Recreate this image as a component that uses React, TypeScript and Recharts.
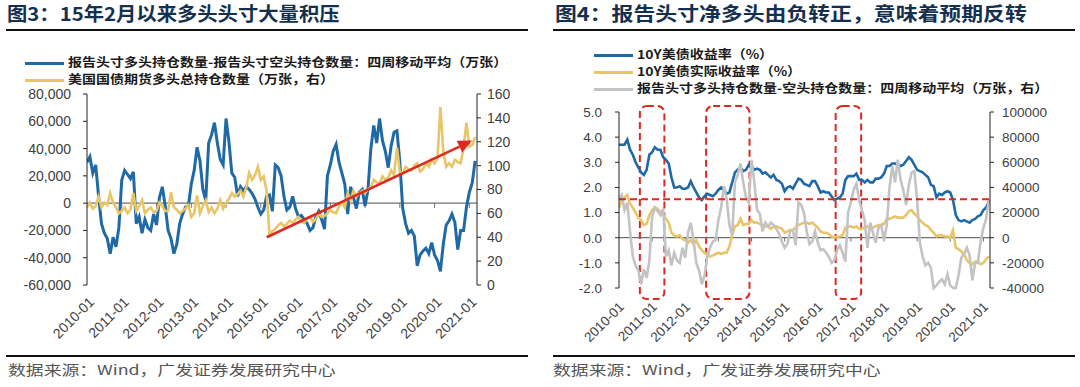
import React from 'react';
import { LineChart, Line, XAxis, YAxis, ReferenceLine, ReferenceArea } from 'recharts';

// monthly points, Jan 2010 .. Mar 2021
const START_YEAR = 2010;
const yearTicks = [2010, 2011, 2012, 2013, 2014, 2015, 2016, 2017, 2018, 2019, 2020, 2021];

// 报告头寸多头-空头持仓，四周移动平均
const netPosition = [
  30000, 34000, 22000, 28000, 5000, -15000, -22000, -26000, -37000, -25000, -32000, -18000,
  17000, 24000, 21000, 18000, 23000, -15000, -10000, -22000, -12000, -18000, -20000, -8000,
  -16000, 4000, 12000, -2000, -20000, -26000, -37000, -30000, -15000, -8000, -3000, -2000,
  14000, 24000, 41000, 31000, 10000, 2000, 44000, 50000, 59000, 44000, 32000, 28000,
  62000, 45000, 22000, 19000, 5000, 12000, 9000, 12000, 10000, 7000, 3000, -3000,
  -8000, -5000, 5000, 6000, -6000, 28000, 26000, 20000, 5000, -5000, -3000, 5000,
  -4000, -10000, -9000, -12000, -15000, -20000, -18000, -10000, -6000, -12000, -19000, 20000,
  28000, 38000, 43000, 30000, 22000, 14000, -8000, 12000, 4000, -4000, 8000, 10000,
  -2000, 10000, 40000, 57000, 44000, 62000, 46000, 38000, 26000, 42000, 52000, 53000,
  30000, -4000, -15000, -22000, -20000, -24000, -46000, -38000, -35000, -33000, -37000, -29000,
  -38000, -42000, -50000, -30000, -16000, -13000, -8000, -14000, -34000, -20000, -20000, -3000,
  8000, 15000, 31000,
];

// 美国国债期货多头总持仓（万张）
const futuresLong = [
  65, 69, 64, 66, 74, 65, 69, 67, 77, 69, 65, 60,
  62, 65, 60, 63, 77, 62, 66, 71, 60, 63, 65, 61,
  62, 69, 66, 62, 62, 78, 65, 63, 60, 62, 64, 67,
  57, 60, 75, 60, 66, 71, 61, 65, 60, 64, 71, 64,
  69, 72, 77, 74, 76, 79, 74, 82, 94, 88, 92, 99,
  88, 91, 79, 42, 45, 47, 50, 52, 49, 51, 54, 52,
  55, 57, 53, 52, 56, 57, 53, 55, 60, 57, 58, 60,
  63, 61, 60, 66, 69, 65, 77, 71, 79, 74, 77, 79,
  77, 80, 82, 88, 86, 85, 91, 88, 90, 96, 92, 115,
  95, 93, 99, 97, 96, 100, 102, 95, 97, 102, 99, 105,
  102, 106, 149, 112, 99, 102, 99, 105, 103, 102, 115, 136,
  116, 117, 124,
];

// 10Y美债收益率（%）
const yield10y = [
  3.7, 3.7, 3.7, 3.9, 3.5, 3.3, 3.0, 2.8, 2.6, 2.5, 2.7, 3.3,
  3.4, 3.6, 3.5, 3.5, 3.2, 3.1, 2.95, 2.4, 2.0, 2.0, 2.05, 1.95,
  1.95, 2.0, 2.25, 2.0, 1.8, 1.6, 1.5, 1.65, 1.75, 1.7, 1.65, 1.75,
  1.9, 2.0, 1.9, 1.75, 1.8, 2.2, 2.6, 2.7, 2.8, 2.65, 2.7, 2.9,
  2.85, 2.7, 2.75, 2.7, 2.55, 2.6, 2.5, 2.4, 2.5, 2.3, 2.25, 2.15,
  1.85, 2.0, 2.05, 1.95, 2.15, 2.35, 2.3, 2.15, 2.1, 2.05, 2.25, 2.25,
  2.05, 1.8, 1.85, 1.8, 1.8, 1.65, 1.5, 1.55, 1.6, 1.75, 2.3, 2.45,
  2.45, 2.45, 2.55, 2.3, 2.3, 2.2, 2.3, 2.2, 2.2, 2.35, 2.35, 2.4,
  2.55, 2.85, 2.85, 2.95, 2.95, 2.9, 2.85, 2.9, 3.05, 3.2, 3.1, 2.9,
  2.7, 2.65, 2.6, 2.5, 2.4, 2.1, 2.05, 1.6, 1.75, 1.7, 1.8, 1.85,
  1.8, 1.5, 0.9, 0.7, 0.65, 0.7, 0.65, 0.6, 0.7, 0.75, 0.85, 0.9,
  1.1, 1.2, 1.45,
];

// 10Y美债实际收益率（%）
const realYield10y = [
  1.2, 1.5, 1.6, 1.7, 1.35, 1.2, 1.0, 0.8, 0.7, 0.5, 0.55, 0.9,
  1.1, 1.2, 1.15, 1.0, 0.9, 0.75, 0.6, 0.2, 0.1, 0.05, 0.1, -0.05,
  -0.1, -0.2, -0.1, -0.25, -0.1, -0.35, -0.5, -0.6, -0.65, -0.75, -0.7, -0.65,
  -0.6, -0.65, -0.6, -0.6, -0.35, 0.1, 0.45, 0.5, 0.75, 0.5, 0.55, 0.55,
  0.7, 0.6, 0.6, 0.55, 0.5, 0.45, 0.45, 0.35, 0.45, 0.45, 0.4, 0.35,
  0.2, 0.25, 0.3, 0.3, 0.4, 0.5, 0.55, 0.6, 0.6, 0.55, 0.6, 0.5,
  0.4, 0.25, 0.2, 0.2, 0.15, 0.05, 0.0, 0.05, 0.05, 0.1, 0.4, 0.45,
  0.45, 0.4, 0.45, 0.35, 0.35, 0.4, 0.45, 0.35, 0.4, 0.45, 0.5, 0.5,
  0.55, 0.75, 0.75, 0.8, 0.85, 0.8, 0.8, 0.8, 0.9, 1.05, 1.1, 0.95,
  0.85, 0.7, 0.6, 0.5, 0.45, 0.3, 0.2, 0.05, 0.1, 0.1, 0.05, 0.05,
  0.0, 0.3, -0.4, -0.45, -0.55, -0.65, -0.9, -1.0, -1.05, -0.95, -0.95, -1.05,
  -1.0, -0.85, -0.75,
];

const leftData = netPosition.map((v, i) => ({
  t: START_YEAR + i / 12,
  net: v,
  fut: futuresLong[i],
}));

const rightData = yield10y.map((v, i) => ({
  t: START_YEAR + i / 12,
  y10: v,
  real: realYield10y[i],
  net: Math.max(netPosition[i], -40000),
}));

const BLUE = '#1f6aa6';
const YELLOW = '#e8c566';
const GRAY = '#c3c3c3';
const RED = '#dc2a20';
const TEXT = '#404040';
const FONT = '"Liberation Sans", Arial, sans-serif';
const CJK = '"Noto Sans CJK SC", "Liberation Sans", sans-serif';

const fmtComma = (v: number) => v.toLocaleString('en-US');

const DateTick = ({ x, y, payload, dx, dy, size }: any) => (
  <g transform={`translate(${x + dx},${y + dy})`}>
    <text
      transform="rotate(-45)"
      textAnchor="end"
      dy="0.71em"
      fill={TEXT}
      fontSize={size}
      fontFamily={FONT}
    >
      {`${payload.value}-01`}
    </text>
  </g>
);

const Arrow = (p: any) => {
  if (p.x1 == null) return null;
  const { x1, y1, x2, y2 } = p;
  const ang = Math.atan2(y2 - y1, x2 - x1);
  const len = 14;
  const half = 6.5;
  const bx = x2 - len * Math.cos(ang);
  const by = y2 - len * Math.sin(ang);
  const nx = -Math.sin(ang);
  const ny = Math.cos(ang);
  return (
    <g>
      <line x1={x1} y1={y1} x2={bx} y2={by} stroke={RED} strokeWidth={2.5} />
      <polygon
        points={`${x2},${y2} ${bx + nx * half},${by + ny * half} ${bx - nx * half},${by - ny * half}`}
        fill={RED}
      />
    </g>
  );
};

const DashBox = (p: any) => (
  <rect
    x={p.x}
    y={p.y}
    width={p.width}
    height={p.height}
    rx={7}
    ry={7}
    fill="none"
    stroke={RED}
    strokeWidth={2}
    strokeDasharray="7 4"
  />
);

const Stretch = ({ left, top, size, scale, weight, color, children }: any) => (
  <div
    style={{
      position: 'absolute',
      left,
      top,
      fontSize: size,
      lineHeight: `${size + 2}px`,
      fontFamily: CJK,
      fontWeight: weight,
      color,
      whiteSpace: 'nowrap',
      transform: `scaleX(${scale})`,
      transformOrigin: 'left center',
    }}
  >
    {children}
  </div>
);

const LegendRow = ({ left, top, color, children }: any) => (
  <>
    <div style={{ position: 'absolute', left, top: top + 7, width: 39, height: 3, background: color }} />
    <Stretch left={left + 43} top={top} size={12.5} scale={1.12} weight={700} color="#1a1a1a">
      {children}
    </Stretch>
  </>
);

const Rule = ({ left, top, width }: any) => (
  <div style={{ position: 'absolute', left, top, width, height: 2, background: '#111' }} />
);

export default function App() {
  return (
    <div
      style={{
        position: 'absolute',
        left: 0,
        top: 0,
        width: 1080,
        height: 387,
        background: '#fff',
        overflow: 'hidden',
      }}
    >
      {/* panel titles and rules */}
      <Stretch left={7} top={2} size={19} scale={1.07} weight={700} color="#15304f">
        图3：15年2月以来多头头寸大量积压
      </Stretch>
      <Stretch left={555} top={2} size={19} scale={1.15} weight={700} color="#15304f">
        图4：报告头寸净多头由负转正，意味着预期反转
      </Stretch>
      <Rule left={6} top={29} width={522} />
      <Rule left={553} top={29} width={522} />
      <Rule left={6} top={355} width={522} />
      <Rule left={553} top={355} width={522} />
      <Stretch left={8} top={362} size={13.5} scale={1.32} weight={400} color="#555">
        数据来源：Wind，广发证券发展研究中心
      </Stretch>
      <Stretch left={553} top={362} size={13.5} scale={1.32} weight={400} color="#555">
        数据来源：Wind，广发证券发展研究中心
      </Stretch>

      {/* legends */}
      <LegendRow left={25} top={55} color={BLUE}>
        报告头寸多头持仓数量-报告头寸空头持仓数量：四周移动平均（万张）
      </LegendRow>
      <LegendRow left={25} top={72} color={YELLOW}>
        美国国债期货多头总持仓数量（万张，右）
      </LegendRow>
      <LegendRow left={594} top={47} color={BLUE}>
        10Y美债收益率（%）
      </LegendRow>
      <LegendRow left={594} top={64} color={YELLOW}>
        10Y美债实际收益率（%）
      </LegendRow>
      <LegendRow left={594} top={81} color={GRAY}>
        报告头寸多头持仓数量-空头持仓数量：四周移动平均（万张，右）
      </LegendRow>

      {/* 图3 */}
      <div style={{ position: 'absolute', left: 0, top: 0 }}>
        <LineChart
          width={540}
          height={360}
          data={leftData}
          margin={{ top: 94, right: 13, bottom: 15, left: 0 }}
        >
          <XAxis
            dataKey="t"
            type="number"
            domain={[2010, 2021.22]}
            ticks={yearTicks}
            allowDataOverflow
            axisLine={false}
            tickLine={false}
            tickSize={0}
            tickMargin={0}
            height={60}
            interval={0}
            tick={<DateTick dx={1} dy={11} size={14} />}
          />
          <YAxis
            yAxisId="left"
            domain={[-60000, 80000]}
            ticks={[-60000, -40000, -20000, 0, 20000, 40000, 60000, 80000]}
            tickFormatter={fmtComma}
            width={87}
            stroke="#222"
            tickSize={4}
            tickMargin={12}
            tick={{ fill: TEXT, fontSize: 14, fontFamily: FONT }}
          />
          <YAxis
            yAxisId="right"
            orientation="right"
            domain={[0, 160]}
            ticks={[0, 20, 40, 60, 80, 100, 120, 140, 160]}
            width={50}
            stroke="#222"
            tickSize={4}
            tickMargin={6}
            tick={{ fill: TEXT, fontSize: 14, fontFamily: FONT, textAnchor: 'start' }}
          />
          <ReferenceLine yAxisId="left" y={0} stroke="#6f6f6f" strokeWidth={1.2} />
          {yearTicks.slice(1).map((yr) => (
            <ReferenceLine
              key={yr}
              yAxisId="left"
              segment={[{ x: yr, y: 0 }, { x: yr, y: -3500 }]}
              stroke="#6f6f6f"
              strokeWidth={1}
            />
          ))}
          <Line
            yAxisId="left"
            dataKey="net"
            type="linear"
            stroke={BLUE}
            strokeWidth={3}
            dot={false}
            isAnimationActive={false}
          />
          <Line
            yAxisId="right"
            dataKey="fut"
            type="linear"
            stroke={YELLOW}
            strokeWidth={2.6}
            dot={false}
            isAnimationActive={false}
          />
          <ReferenceLine
            yAxisId="right"
            segment={[{ x: 2015.17, y: 40 }, { x: 2021.08, y: 121 }]}
            ifOverflow="visible"
            shape={Arrow}
          />
        </LineChart>
      </div>

      {/* 图4 */}
      <div style={{ position: 'absolute', left: 540, top: 0 }}>
        <LineChart
          width={540}
          height={360}
          data={rightData}
          margin={{ top: 112, right: 20, bottom: 12, left: 0 }}
        >
          <XAxis
            dataKey="t"
            type="number"
            domain={[2010, 2021.2]}
            ticks={yearTicks}
            allowDataOverflow
            axisLine={false}
            tickLine={false}
            tickSize={0}
            tickMargin={0}
            height={60}
            interval={0}
            tick={<DateTick dx={-1} dy={13} size={13.5} />}
          />
          <YAxis
            yAxisId="left"
            domain={[-2, 5]}
            ticks={[-2, -1, 0, 1, 2, 3, 4, 5]}
            tickFormatter={(v: number) => v.toFixed(1)}
            width={79}
            stroke="#222"
            tickSize={4}
            tickMargin={13}
            tick={{ fill: TEXT, fontSize: 13.5, fontFamily: FONT }}
          />
          <YAxis
            yAxisId="right"
            orientation="right"
            domain={[-40000, 100000]}
            ticks={[-40000, -20000, 0, 20000, 40000, 60000, 80000, 100000]}
            width={70}
            stroke="#222"
            tickSize={4}
            tickMargin={8}
            tick={{ fill: TEXT, fontSize: 13.5, fontFamily: FONT, textAnchor: 'start' }}
          />
          <ReferenceLine yAxisId="left" y={0} stroke="#6f6f6f" strokeWidth={1.2} />
          {yearTicks.slice(1).map((yr) => (
            <ReferenceLine
              key={yr}
              yAxisId="left"
              segment={[{ x: yr, y: 0 }, { x: yr, y: -0.15 }]}
              stroke="#6f6f6f"
              strokeWidth={1}
            />
          ))}
          <Line
            yAxisId="left"
            dataKey="y10"
            type="linear"
            stroke={BLUE}
            strokeWidth={2.6}
            dot={false}
            isAnimationActive={false}
          />
          <Line
            yAxisId="left"
            dataKey="real"
            type="linear"
            stroke={YELLOW}
            strokeWidth={2.6}
            dot={false}
            isAnimationActive={false}
          />
          <Line
            yAxisId="right"
            dataKey="net"
            type="linear"
            stroke={GRAY}
            strokeWidth={2.6}
            dot={false}
            isAnimationActive={false}
          />
          <ReferenceLine
            yAxisId="left"
            y={1.53}
            stroke={RED}
            strokeWidth={2}
            strokeDasharray="7 4"
          />
          <ReferenceArea yAxisId="left" x1={2010.63} x2={2011.37} y1={-2.44} y2={5.24} ifOverflow="visible" shape={DashBox} />
          <ReferenceArea yAxisId="left" x1={2012.63} x2={2013.94} y1={-2.44} y2={5.24} ifOverflow="visible" shape={DashBox} />
          <ReferenceArea yAxisId="left" x1={2016.54} x2={2017.31} y1={-2.44} y2={5.24} ifOverflow="visible" shape={DashBox} />
        </LineChart>
      </div>
    </div>
  );
}
